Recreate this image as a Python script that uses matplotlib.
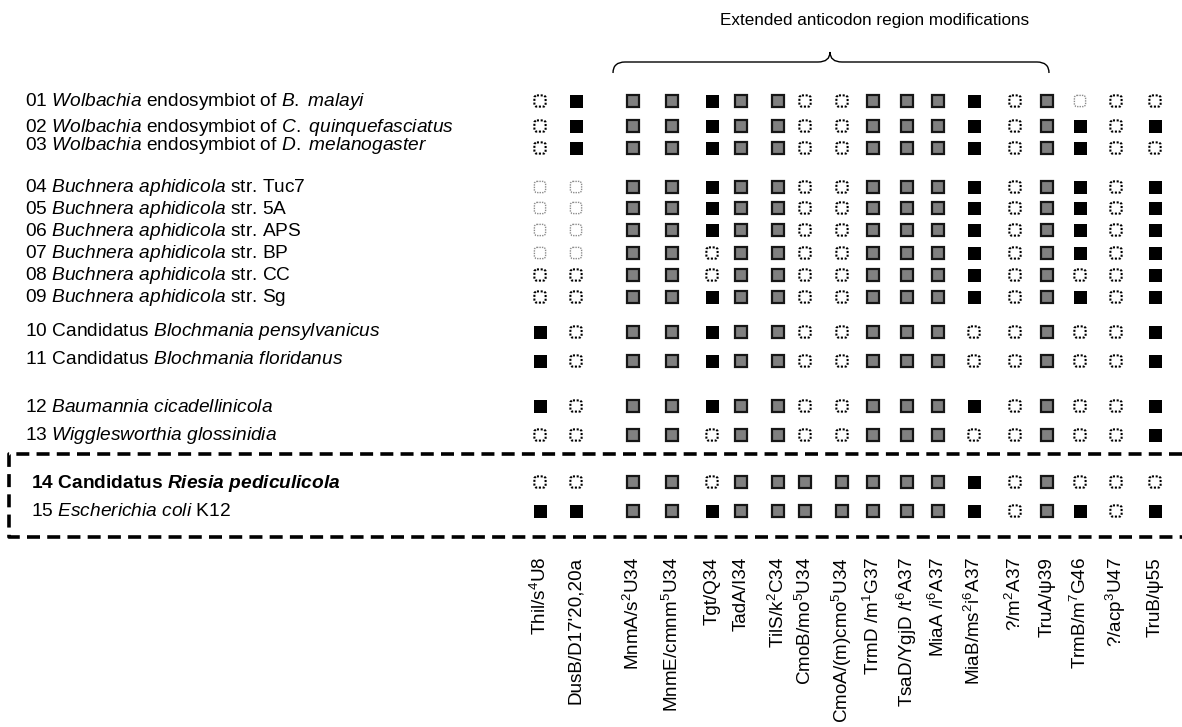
import matplotlib

matplotlib.use("Agg")
import matplotlib.pyplot as plt
from matplotlib.patches import Rectangle, FancyBboxPatch, PathPatch
from matplotlib.path import Path

plt.rcParams["font.family"] = "Liberation Sans"
plt.rcParams["mathtext.fontset"] = "custom"
plt.rcParams["mathtext.rm"] = "Liberation Sans"
plt.rcParams["mathtext.it"] = "Liberation Sans:italic"
plt.rcParams["mathtext.bf"] = "Liberation Sans:bold"
plt.rcParams["mathtext.bfit"] = "Liberation Sans:italic:bold"
plt.rcParams["mathtext.default"] = "regular"

W, H = 1182, 727

# organisms (*...* = italic); row 14 is the highlighted one
organisms = [
    "01 *Wolbachia* endosymbiot of *B. malayi*",
    "02 *Wolbachia* endosymbiot of *C. quinquefasciatus*",
    "03 *Wolbachia* endosymbiot of *D. melanogaster*",
    "04 *Buchnera aphidicola* str. Tuc7",
    "05 *Buchnera aphidicola* str. 5A",
    "06 *Buchnera aphidicola* str. APS",
    "07 *Buchnera aphidicola* str. BP",
    "08 *Buchnera aphidicola* str. CC",
    "09 *Buchnera aphidicola* str. Sg",
    "10 Candidatus *Blochmania pensylvanicus*",
    "11 Candidatus *Blochmania floridanus*",
    "12 *Baumannia cicadellinicola*",
    "13 *Wigglesworthia glossinidia*",
    "14 Candidatus *Riesia pediculicola*",
    "15 *Escherichia coli* K12",
]
highlighted = "14"

modifications = [
    "Thil/s$^4$U8", "DusB/D17'20,20a", "MnmA/s$^2$U34", "MnmE/cmnm$^5$U34",
    "Tgt/Q34", "TadA/I34", "TilS/k$^2$C34", "CmoB/mo$^5$U34",
    "CmoA/(m)cmo$^5$U34", "TrmD /m$^1$G37", "TsaD/YgjD /t$^6$A37", "MiaA /i$^6$A37",
    "MiaB/ms$^2$i$^6$A37", "?/m$^2$A37", "TruA/\u03c839", "TrmB/m$^7$G46",
    "?/acp$^3$U47", "TruB/\u03c855",
]

# b = black, g = grey, o = dotted (absent), l = faint dotted
presence = [
    "obggbggoogggbogloo",
    "obggbggoogggbogbob",
    "obggbggoogggbogboo",
    "llggbggoogggbogbob",
    "llggbggoogggbogbob",
    "llggbggoogggbogbob",
    "llggoggoogggbogbob",
    "ooggoggoogggbogoob",
    "ooggbggoogggbogbob",
    "boggbggoogggoogoob",
    "boggbggoogggoogoob",
    "boggbggoogggbogoob",
    "ooggoggoogggoogoob",
    "ooggogggggggbogooo",
    "bbggbgggggggbogbob",
]

# layout, in pixels
col_x = [540, 576, 633, 672, 712, 741, 778, 805, 842, 873, 907, 938, 974,
         1015, 1047, 1080, 1116, 1155]
row_y = [101, 126, 148, 187, 208, 230, 253, 275, 297, 332, 361, 406, 435, 482, 511]
text_y = [102, 127, 146, 188, 210, 232, 253, 275, 298, 332, 360, 407, 435, 483, 511]

fig = plt.figure(figsize=(W / 100, H / 100), dpi=100)
ax = fig.add_axes([0, 0, 1, 1])
ax.set_xlim(0, W)
ax.set_ylim(H, 0)
ax.axis("off")


def to_math(label, bold):
    out = []
    cmd = r"\mathbfit" if bold else r"\mathit"
    for i, part in enumerate(label.split("*")):
        if i % 2:
            # one math group per word so the spaces stay normal text spaces
            out.append(" ".join("$" + cmd + "{" + w + "}$" for w in part.split(" ")))
        else:
            out.append(part)
    return "".join(out)


# row labels
for name, y in zip(organisms, text_y):
    bold = name.startswith(highlighted)
    ax.text(31 if int(name[:2]) >= 14 else 25, y, to_math(name, bold),
            fontsize=13.8, fontweight="bold" if bold else "normal",
            ha="left", va="center")

# cells
for codes, y in zip(presence, row_y):
    for code, x in zip(codes, col_x):
        if code == "b":
            ax.add_patch(Rectangle((x - 6.5, y - 6.5), 13, 13, fc="black", ec="none"))
        elif code == "g":
            ax.add_patch(Rectangle((x - 5.8, y - 5.8), 11.6, 11.6, fc="#808080",
                                   ec="#161616", lw=1.6))
        else:
            faint = code == "l"
            ax.add_patch(FancyBboxPatch(
                (x - 5.6, y - 5.6), 11.2, 11.2,
                boxstyle="round,pad=0,rounding_size=2.5",
                fc="white", ec="#8c8c8c" if faint else "black",
                lw=1.0 if faint else 1.5, ls=(0, (1, 0.8))))

# column labels
for lab, x in zip(modifications, col_x):
    ax.text(x, 557, lab, rotation=90, fontsize=13.6, ha="center", va="top")

# dashed box around the last two rows (open on the right)
ax.plot([W, 9, 9, W], [454, 454, 537, 537], color="black", lw=2.6,
        ls=(0, (3.6, 2.0)), solid_capstyle="butt", dash_capstyle="butt")

# brace over the anticodon-region columns
verts = [(613, 73), (613, 62), (625, 62), (818, 62), (830, 62), (830, 52),
         (830, 62), (842, 62), (1037, 62), (1049, 62), (1049, 73)]
codes_p = [Path.MOVETO, Path.CURVE3, Path.CURVE3, Path.LINETO, Path.CURVE3,
           Path.CURVE3, Path.CURVE3, Path.CURVE3, Path.LINETO, Path.CURVE3,
           Path.CURVE3]
ax.add_patch(PathPatch(Path(verts, codes_p), fc="none", ec="black", lw=1.0))
ax.text(875, 20, "Extended anticodon region modifications", fontsize=12.3,
        ha="center", va="center")

fig.savefig("out.png", dpi=100)
